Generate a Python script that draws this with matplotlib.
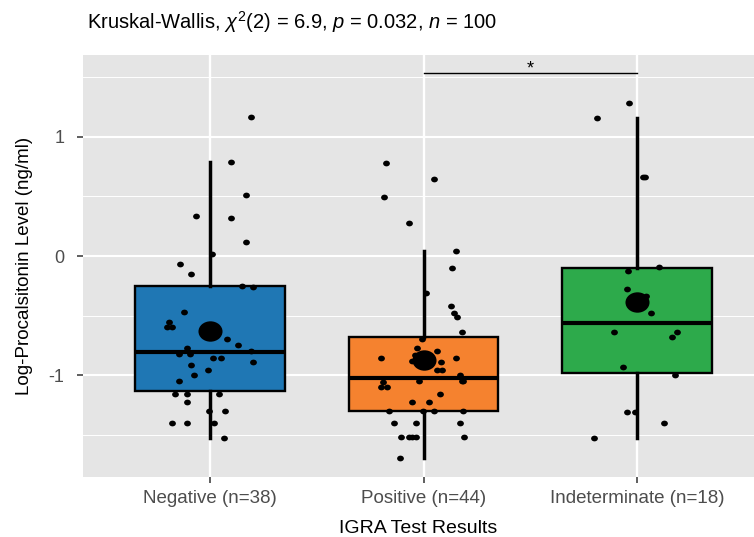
import matplotlib.pyplot as plt
import numpy as np
from matplotlib.path import Path

plt.rcParams['font.family'] = ['Liberation Sans', 'DejaVu Sans']
plt.rcParams['mathtext.fontset'] = 'custom'
plt.rcParams['mathtext.rm'] = 'Liberation Sans'
plt.rcParams['mathtext.it'] = 'Liberation Sans:italic'

categories = ['Negative (n=38)', 'Positive (n=44)', 'Indeterminate (n=18)']
colors = ['#1F77B4', '#F5822F', '#2DAA4B']

# log-procalcitonin values, with the jitter offsets seen
neg_vals = [1.17, 0.79, 0.515, 0.333, 0.32, 0.118, 0.02, -0.07, -0.15, -0.25, -0.26,
            -0.47, -0.555, -0.60, -0.60, -0.70, -0.745, -0.77, -0.80, -0.82, -0.82,
            -0.86, -0.86, -0.89, -0.92, -0.96, -1.00, -1.05, -1.157, -1.157, -1.157,
            -1.23, -1.30, -1.30, -1.40, -1.40, -1.40, -1.527]
neg_jit = [0.19, 0.10, 0.17, -0.066, 0.10, 0.17, 0.01, -0.14, -0.09, 0.15, 0.20,
           -0.12, -0.19, -0.20, -0.18, 0.08, 0.13, -0.11, 0.19, -0.145, -0.094,
           0.014, 0.05, 0.20, -0.09, -0.008, -0.074, -0.145, -0.164, -0.11, 0.042,
           -0.11, -0.005, 0.07, -0.177, -0.106, 0.017, 0.064]

pos_vals = [0.784, 0.644, 0.493, 0.277, 0.045, -0.103, -0.311, -0.417, -0.48, -0.51,
            -0.639, -0.70, -0.77, -0.80, -0.83, -0.857, -0.857, -0.886, -0.89, -0.96,
            -0.96, -1.0, -1.048, -1.05, -1.05, -1.06, -1.10, -1.10, -1.16, -1.224,
            -1.224, -1.30, -1.30, -1.30, -1.30, -1.40, -1.40, -1.40, -1.524, -1.524,
            -1.524, -1.524, -1.524, -1.70]
pos_jit = [-0.177, 0.05, -0.184, -0.066, 0.153, 0.134, 0.01, 0.13, 0.142, 0.155,
           0.178, -0.005, -0.03, 0.062, -0.04, -0.197, 0.151, -0.053, 0.083, 0.062,
           0.086, 0.173, 0.187, -0.019, 0.18, -0.19, -0.197, -0.172, 0.078, -0.055,
           0.027, -0.16, -0.003, 0.05, 0.184, -0.136, -0.036, 0.17, -0.106, -0.069,
           -0.056, -0.034, 0.19, -0.11]

ind_vals = [1.286, 1.16, 0.66, 0.665, -0.09, -0.13, -0.277, -0.34, -0.48, -0.64,
            -0.64, -0.68, -0.93, -1.0, -1.31, -1.31, -1.40, -1.53]
ind_jit = [-0.037, -0.187, 0.03, 0.037, 0.103, -0.04, -0.048, 0.042, 0.066, -0.11,
           0.187, 0.162, -0.064, 0.18, -0.045, -0.008, 0.126, -0.20]

groups = [neg_vals, pos_vals, ind_vals]
jitters = [neg_jit, pos_jit, ind_jit]

# the reference is a bit wider than tall, dots come out as flat ellipses
circ = Path.unit_circle()
oval = Path(circ.vertices * [1.18, 1.0], circ.codes)

fig = plt.figure(figsize=(7.54, 5.37), dpi=100)
ax = fig.add_axes([83/754, 1 - 477/537, 1 - 83/754, (477 - 55)/537])
ax.set_facecolor('#E5E5E5')
for s in ax.spines.values():
    s.set_visible(False)

# grid
for y in [-1.5, -0.5, 0.5, 1.5]:
    ax.axhline(y, color='white', lw=0.7, zorder=0)
for y in [-1, 0, 1]:
    ax.axhline(y, color='white', lw=1.5, zorder=0)
for x in [1, 2, 3]:
    ax.axvline(x, color='white', lw=1.7, zorder=0)

pos = [1, 2, 3]
bp = ax.boxplot(groups, positions=pos, widths=0.7, whis=1.5, showfliers=False,
                patch_artist=True, showcaps=False, zorder=2,
                boxprops=dict(edgecolor='black', linewidth=1.7),
                whiskerprops=dict(color='black', linewidth=2.5),
                medianprops=dict(color='black', linewidth=3.0))
for patch, c in zip(bp['boxes'], colors):
    patch.set_facecolor(c)

for i, (vals, jit) in enumerate(zip(groups, jitters)):
    ax.scatter(np.array(jit) + pos[i], vals, s=24, marker=oval, color='black',
               zorder=3, linewidths=0)
    ax.scatter(pos[i], np.mean(vals), s=300, marker=oval, color='black',
               zorder=4, linewidths=0)

# significance bracket
ax.plot([2, 3], [1.538, 1.538], color='black', lw=1.0, zorder=3)
ax.text(2.5, 1.575, '*', ha='center', va='center', fontsize=13)

ax.set_xlim(0.405, 3.548)
ax.set_ylim(-1.857, 1.689)
ax.set_yticks([-1, 0, 1])
ax.set_yticklabels(['-1', '0', '1'])
ax.set_xticks(pos)
ax.set_xticklabels(categories)
ax.tick_params(axis='both', colors='#333333', labelcolor='#4D4D4D',
               length=4.5, width=1.1)
ax.tick_params(axis='x', labelsize=13.5, pad=5)
ax.tick_params(axis='y', labelsize=13, pad=9)
ax.set_xlabel('IGRA Test Results', fontsize=14, labelpad=9)
ax.set_ylabel('Log-Procalsitonin Level (ng/ml)', fontsize=13.5, labelpad=11)

fig.text(87/754, 1 - 22/537,
         r'Kruskal-Wallis, $\chi^2$(2) = 6.9, $\mathit{p}$ = 0.032, $\mathit{n}$ = 100',
         fontsize=14.5, ha='left', va='center')

fig.savefig('out.png', dpi=100)
